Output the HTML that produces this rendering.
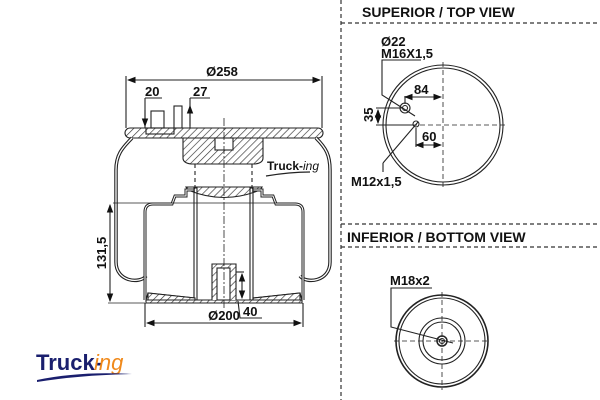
<!DOCTYPE html>
<html><head><meta charset="utf-8"><style>
html,body{margin:0;padding:0;background:#fff;}
svg{display:block;}
text{font-family:"Liberation Sans",sans-serif;font-weight:bold;fill:#111;}
</style></head><body>
<svg width="600" height="400" viewBox="0 0 600 400" xmlns="http://www.w3.org/2000/svg">
<defs>
<pattern id="h" width="5" height="5" patternUnits="userSpaceOnUse" patternTransform="rotate(45)">
<rect width="5" height="5" fill="#fff"/><line x1="0" y1="0" x2="0" y2="5" stroke="#333" stroke-width="1.3"/>
</pattern>
<marker id="a" markerWidth="8" markerHeight="6" refX="7" refY="3" orient="auto-start-reverse"><path d="M0,0 L8,3 L0,6z" fill="#111"/></marker>
</defs>
<g fill="none" stroke="#333" stroke-dasharray="4,3" stroke-width="1.2">
<line x1="341" y1="0" x2="341" y2="400"/>
<line x1="341" y1="23" x2="600" y2="23"/>
<line x1="341" y1="224" x2="600" y2="224"/>
<line x1="341" y1="247" x2="600" y2="247"/>
</g>
<text x="362" y="17" font-size="14" font-family="DejaVu Sans">SUPERIOR / TOP VIEW</text>
<text x="347" y="242" font-size="14" font-family="DejaVu Sans">INFERIOR / BOTTOM VIEW</text>

<!-- top view -->
<g fill="none" stroke="#222" stroke-width="1.1">
<circle cx="443" cy="125" r="60"/><circle cx="443" cy="125" r="57"/>
<line x1="443" y1="62" x2="443" y2="190" stroke-dasharray="5,3" stroke-width="0.8"/>
<line x1="380" y1="125" x2="508" y2="125" stroke-dasharray="5,3" stroke-width="0.8"/>
<circle cx="405" cy="108" r="5"/><circle cx="405" cy="108" r="2.5"/>
<circle cx="416" cy="124" r="3"/>
<polyline points="421,60 382,60 382,95 415,116"/>
<line x1="418" y1="122" x2="383" y2="163"/>
<polyline points="383,163 383,172"/>
<line x1="405" y1="96" x2="405" y2="104"/>
<line x1="405" y1="97" x2="441" y2="97" marker-start="url(#a)" marker-end="url(#a)"/>
<line x1="416" y1="128" x2="416" y2="147"/>
<line x1="416" y1="145" x2="441" y2="145" marker-start="url(#a)" marker-end="url(#a)"/>
<line x1="376" y1="108" x2="402" y2="108"/><line x1="376" y1="125" x2="413" y2="125"/>
<line x1="378" y1="110" x2="378" y2="123" marker-start="url(#a)" marker-end="url(#a)"/>
</g>
<text x="381" y="46" font-size="13">Ø22</text>
<text x="381" y="58" font-size="13">M16X1,5</text>
<text x="414" y="94" font-size="13">84</text>
<text x="422" y="141" font-size="13">60</text>
<text x="373" y="122" font-size="13" transform="rotate(-90 373 122)">35</text>
<text x="351" y="186" font-size="13">M12x1,5</text>

<!-- bottom view -->
<g fill="none" stroke="#222" stroke-width="1.1">
<circle cx="442" cy="341" r="46" stroke-width="1.6"/><circle cx="442" cy="341" r="43"/>
<circle cx="442" cy="341" r="23"/><circle cx="442" cy="341" r="19"/>
<circle cx="442" cy="341" r="5" stroke-width="1.5"/><circle cx="442" cy="341" r="2.5"/>
<line x1="442" y1="292" x2="442" y2="390" stroke-dasharray="5,3" stroke-width="0.8"/>
<line x1="394" y1="341" x2="490" y2="341" stroke-dasharray="5,3" stroke-width="0.8"/>
<polyline points="432,288 391,288 391,327 453,343"/>
</g>
<text x="390" y="285" font-size="13">M18x2</text>

<!-- main drawing -->
<g fill="none" stroke="#222" stroke-width="1.1">
<line x1="126" y1="76" x2="126" y2="128"/><line x1="322" y1="76" x2="322" y2="128"/>
<line x1="128" y1="80" x2="320" y2="80" marker-start="url(#a)" marker-end="url(#a)"/>
<!-- top plate -->
<path d="M130,128 H318 a5,5 0 0 1 0,10 H130 a5,5 0 0 1 0,-10z" fill="url(#h)"/>
<!-- bellows -->
<path d="M132,138 C122,148 116,155 116,170 V262 C116,282 140,284 146,276" stroke-width="3.5"/>
<path d="M132,138 C122,148 116,155 116,170 V262 C116,282 140,284 146,276" stroke="#fff" stroke-width="1.3"/>
<path d="M316,138 C326,148 330,155 330,170 V262 C330,282 306,284 300,276" stroke-width="3.5"/>
<path d="M316,138 C326,148 330,155 330,170 V262 C330,282 306,284 300,276" stroke="#fff" stroke-width="1.3"/>
<!-- hatched top block -->
<path d="M183,138 H263 V158 Q263,163 255,164 H191 Q183,163 183,158z" fill="url(#h)"/>
<rect x="215" y="138" width="18" height="12" fill="#fff"/>
<!-- bolts on top -->
<rect x="151" y="111" width="13" height="17"/><rect x="174" y="106" width="8" height="22"/>
<rect x="146" y="128" width="28" height="6"/>
<line x1="145" y1="98" x2="145" y2="128"/><line x1="190" y1="98" x2="190" y2="128"/>
<line x1="145" y1="110" x2="145" y2="126" marker-end="url(#a)"/>
<line x1="190" y1="106" x2="190" y2="126" marker-start="url(#a)"/>
<line x1="145" y1="98" x2="162" y2="98"/><line x1="190" y1="98" x2="210" y2="98"/>
<!-- dash lines under block -->
<line x1="195" y1="164" x2="195" y2="190" stroke-dasharray="4,3"/>
<line x1="252" y1="164" x2="252" y2="190" stroke-dasharray="4,3"/>
<!-- bump plate -->
<path d="M186,187 H262 L260,190 Q224,205 188,190z" fill="url(#h)"/>
<!-- piston -->
<path d="M145,300 V212 Q145,204 153,204 H172 L175,196 H186 V190 H195 M252,190 H262 V196 H273 L276,204 H295 Q303,204 303,212 V300" stroke-width="3"/>
<path d="M145,300 V212 Q145,204 153,204 H172 L175,196 H186 V190 H195 M252,190 H262 V196 H273 L276,204 H295 Q303,204 303,212 V300" stroke="#fff" stroke-width="1"/>
<rect x="194" y="188" width="3" height="112"/><rect x="250" y="188" width="3" height="112"/>
<path d="M146,300 L148,293 L195,298 M302,300 L300,293 L253,298" />
<path d="M146,300 H302 V303 H146z" fill="url(#h)"/>
<path d="M148,293 L195,298 V300 H148z M300,293 L253,298 V300 H300z" fill="url(#h)"/>
<!-- pin -->
<path d="M212,300 V264 H236 V300" fill="url(#h)"/>
<rect x="217" y="268" width="13" height="32" fill="#fff"/>
<line x1="236" y1="272" x2="244" y2="272"/>
<line x1="242" y1="274" x2="242" y2="298" marker-start="url(#a)" marker-end="url(#a)"/>
<polyline points="238,301 240,318 262,318"/>
<!-- center line -->
<line x1="224" y1="118" x2="224" y2="308" stroke-dasharray="8,2,2,2" stroke-width="0.8"/>
<line x1="113" y1="203" x2="296" y2="203" stroke-width="0.8"/>
<line x1="108" y1="303" x2="145" y2="303" stroke-width="0.8"/>
<line x1="110" y1="205" x2="110" y2="301" marker-start="url(#a)" marker-end="url(#a)"/>
<line x1="145" y1="303" x2="145" y2="327"/><line x1="303" y1="303" x2="303" y2="327"/>
<line x1="147" y1="323" x2="301" y2="323" marker-start="url(#a)" marker-end="url(#a)"/>
</g>
<text x="222" y="76" font-size="13" text-anchor="middle">Ø258</text>
<text x="145" y="96" font-size="13">20</text>
<text x="193" y="96" font-size="13">27</text>
<text x="243" y="316" font-size="13">40</text>
<text x="224" y="320" font-size="13" text-anchor="middle">Ø200</text>
<text x="106" y="253" font-size="13" text-anchor="middle" transform="rotate(-90 106 253)">131,5</text>
<text x="267" y="170" font-size="12" fill="#222" style="font-family:'Liberation Sans Narrow','Liberation Sans',sans-serif">Truck-<tspan font-style="italic" font-weight="normal">ing</tspan></text>
<path d="M266,176 Q290,172 310,172" stroke="#222" stroke-width="1.2" fill="none"/>

<!-- logo -->
<text x="36" y="370" font-size="22" style="fill:#1a1f6e;font-family:'Liberation Sans Narrow','Liberation Sans',sans-serif">Truck-</text>
<text x="94" y="370" font-size="22" font-style="italic" font-weight="normal" style="fill:#f08a1c;font-weight:normal">ing</text>
<path d="M37,380 Q80,371 132,374 Q80,375 37,382z" fill="#1a1f6e"/>
</svg>
</body></html>
